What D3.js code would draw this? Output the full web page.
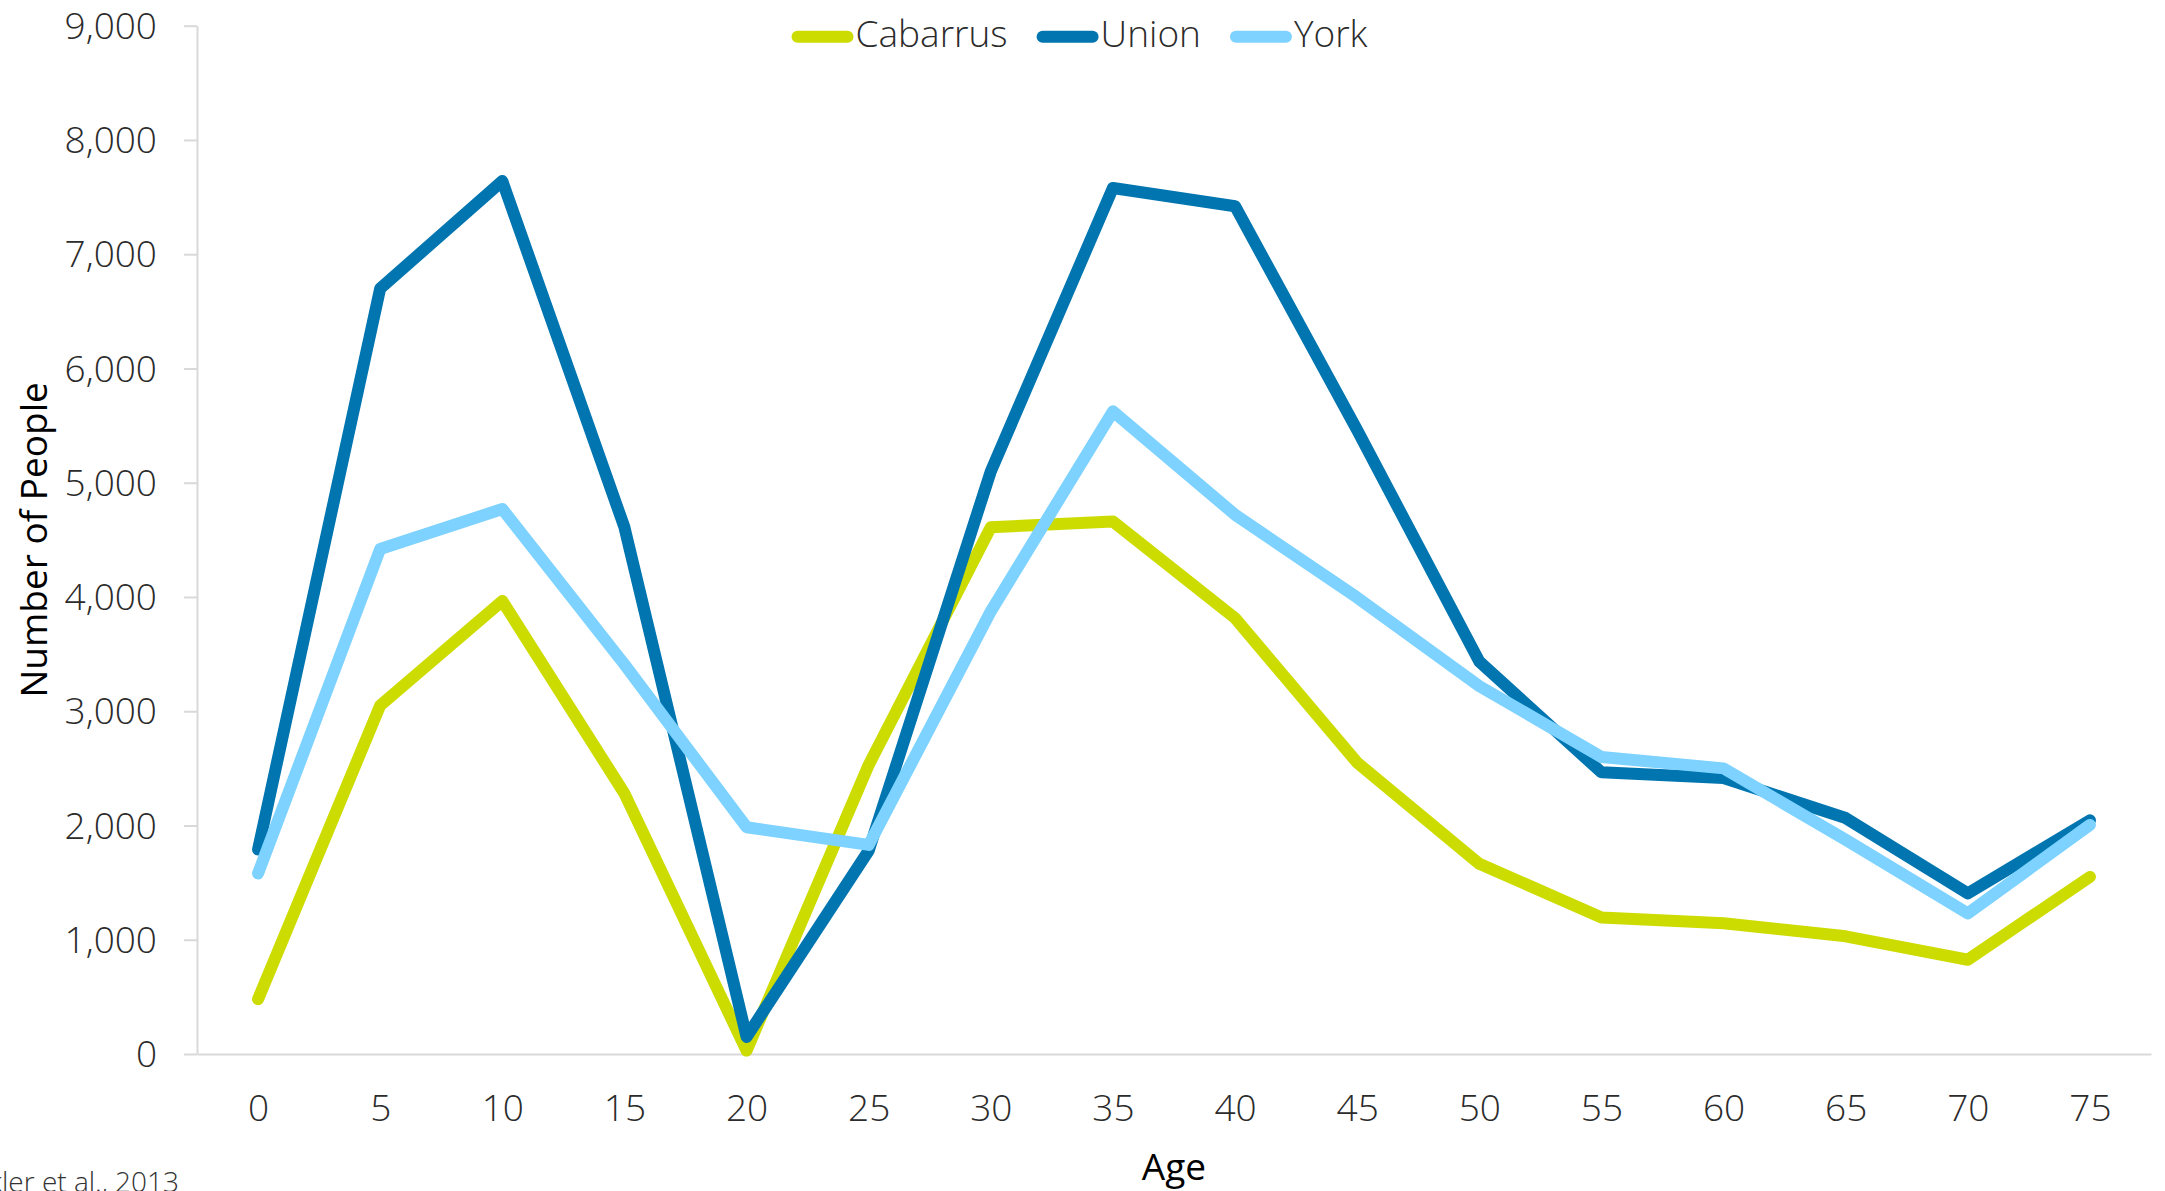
<!DOCTYPE html>
<html>
<head>
<meta charset="utf-8">
<script src="https://cdn.jsdelivr.net/npm/d3@7"></script>
<style>
  body { margin: 0; background: #fff; }
  svg { display: block; font-family: "Open Sans", sans-serif; }
</style>
</head>
<body>
<script>
// ages on the x axis
var ages = [0, 5, 10, 15, 20, 25, 30, 35, 40, 45, 50, 55, 60, 65, 70, 75];

// people per age
var cabarrus = [480, 3050, 3965, 2280, 30, 2530, 4610, 4660, 3815, 2550, 1665, 1195, 1145, 1030, 825, 1550];
var union    = [1790, 6700, 7640, 4610, 150, 1780, 5100, 7580, 7420, 5460, 3435, 2465, 2415, 2065, 1405, 2045];
var york     = [1580, 4420, 4770, 3410, 1985, 1830, 3875, 5625, 4720, 3995, 3220, 2600, 2500, 1875, 1230, 2005];

var seriesNames = ["Cabarrus", "Union", "York"];
var seriesColors = ["#cddc00", "#0075b0", "#7dd2ff"];
var yTicks = [0, 1000, 2000, 3000, 4000, 5000, 6000, 7000, 8000, 9000];

var width = 2165, height = 1191;
var plot = { left: 197, right: 2151, top: 25.7, bottom: 1054 };

var series = [cabarrus, union, york].map(function (vals, i) {
    return { name: seriesNames[i], color: seriesColors[i],
             values: vals.map(function (v, j) { return { age: ages[j], value: v }; }) };
});

var svg = d3.select("body").append("svg")
    .attr("width", width)
    .attr("height", height);

var x = d3.scalePoint()
    .domain(ages)
    .range([plot.left, plot.right])
    .padding(0.5);

var y = d3.scaleLinear()
    .domain([0, 9000])
    .range([plot.bottom, plot.top]);

// y axis
var yAxis = svg.append("g")
    .attr("transform", "translate(" + plot.left + ",0)")
    .call(d3.axisLeft(y).tickValues(yTicks).tickFormat(d3.format(",")).tickSize(13).tickSizeOuter(0).tickPadding(27));

// x axis
var xAxis = svg.append("g")
    .attr("transform", "translate(0," + plot.bottom + ")")
    .call(d3.axisBottom(x).tickSize(0).tickSizeOuter(0).tickPadding(41));

svg.selectAll(".domain, .tick line")
    .attr("stroke", "#d9d9d9")
    .attr("stroke-width", 2);

svg.selectAll(".tick text")
    .attr("fill", "#2b2b2b")
    .style("font-family", "'Open Sans', sans-serif")
    .style("font-size", "37px")
    .style("font-weight", 300);

yAxis.selectAll(".tick text").attr("dy", "0.34em");

// lines
var line = d3.line()
    .x(function (d) { return x(d.age); })
    .y(function (d) { return y(d.value); });

svg.selectAll(".series")
    .data(series)
    .enter().append("path")
    .attr("class", "series")
    .attr("d", function (d) { return line(d.values); })
    .attr("fill", "none")
    .attr("stroke", function (d) { return d.color; })
    .attr("stroke-width", 12)
    .attr("stroke-linejoin", "round")
    .attr("stroke-linecap", "round");

// axis titles
svg.append("text")
    .attr("x", (plot.left + plot.right) / 2)
    .attr("y", 1180)
    .attr("text-anchor", "middle")
    .style("font-size", "37px")
    .attr("fill", "#000")
    .text("Age");

svg.append("text")
    .attr("transform", "translate(47," + (plot.top + plot.bottom) / 2 + ") rotate(-90)")
    .attr("text-anchor", "middle")
    .style("font-size", "37px")
    .attr("fill", "#000")
    .text("Number of People");

// source note, runs off the left edge as in the original
svg.append("text")
    .attr("x", 179)
    .attr("y", 1192)
    .attr("text-anchor", "end")
    .style("font-size", "28px")
    .style("font-weight", 300)
    .attr("fill", "#333")
    .text("Source: Winkler et al., 2013");

// legend
var legend = svg.append("g");
var lx = 0;
series.forEach(function (s, i) {
    var g = legend.append("g").attr("transform", "translate(" + lx + ",0)");
    g.append("line")
        .attr("x1", 6).attr("x2", 56)
        .attr("y1", 36.7).attr("y2", 36.7)
        .attr("stroke", s.color)
        .attr("stroke-width", 12)
        .attr("stroke-linecap", "round");
    var t = g.append("text")
        .attr("x", 64)
        .attr("y", 47)
        .style("font-size", "37px")
        .style("font-weight", 300)
        .attr("fill", "#2b2b2b")
        .text(s.name);
    lx += 64 + t.node().getComputedTextLength() + 29;
});
var legendWidth = lx - 29;
legend.attr("transform", "translate(" + (width / 2 - legendWidth / 2 - 3) + ",0)");
</script>
</body>
</html>
